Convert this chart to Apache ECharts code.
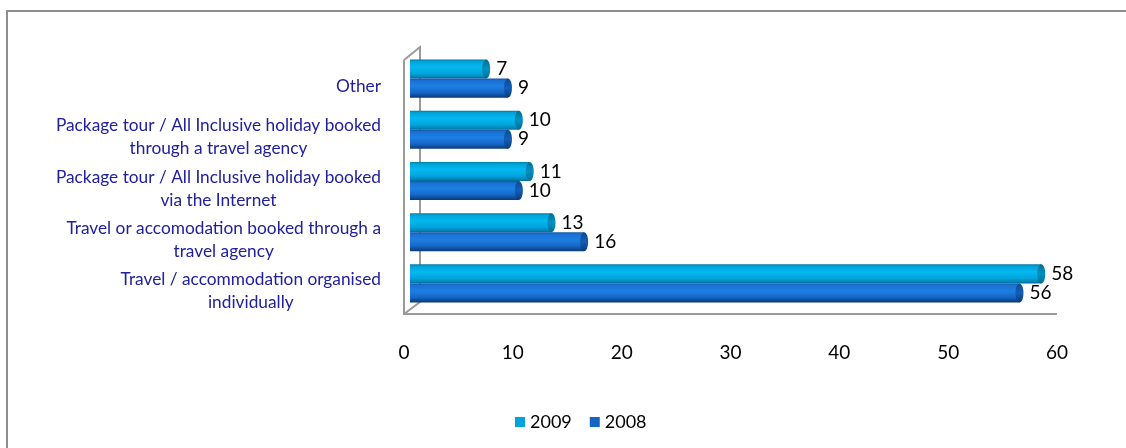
<!DOCTYPE html>
<html>
<head>
<meta charset="utf-8">
<script src="https://cdn.jsdelivr.net/npm/echarts@6/dist/echarts.min.js"></script>
<style>
  html, body { margin: 0; padding: 0; background: #fff; }
  #chart { width: 1126px; height: 448px; }
</style>
</head>
<body>
<div id="chart"></div>
<script>
// Ways of organising the holiday trip, share of respondents (%)
const categories = [
  'Other',
  'Package tour / All Inclusive holiday booked\nthrough a travel agency',
  'Package tour / All Inclusive holiday booked\nvia the Internet',
  'Travel or accomodation booked through a\ntravel agency',
  'Travel / accommodation organised\nindividually'
];
const values2009 = [7, 10, 11, 13, 58];
const values2008 = [9, 9, 10, 16, 56];
const seriesNames = ['2009', '2008'];
const valueAxisMin = 0;
const valueAxisMax = 60;
const valueAxisStep = 10;

const FONT = 'Lato, "Noto Sans", sans-serif';

// plot box
const GRID = { left: 410, top: 53, width: 653, height: 256 };
const gl = GRID.left, gt = GRID.top, gr = GRID.left + GRID.width, gb = GRID.top + GRID.height;

// cylinder shading for each series: body (across its thickness) and the end cap
const palettes = [
  {
    legend: '#00A3DD',
    body: [[0, '#00789F'], [0.1, '#00A3DA'], [0.4, '#05B8F0'], [0.75, '#01A2DA'], [0.92, '#0083B3'], [1, '#00678E']],
    cap: [[0, '#006E92'], [0.5, '#0091C2'], [1, '#006C90']]
  },
  {
    legend: '#1565C3',
    body: [[0, '#0F55A8'], [0.1, '#1A70D2'], [0.4, '#1D7FE3'], [0.72, '#1668C9'], [0.9, '#0E4A93'], [1, '#0A3870']],
    cap: [[0, '#0C4A92'], [0.5, '#135EB5'], [1, '#0A3B76']]
  }
];

function makeRender(seriesIdx) {
  const pal = palettes[seriesIdx];
  return function (params, api) {
    const v = api.value(0);
    const ci = api.value(1);
    const base = api.coord([0, ci]);
    const end = api.coord([v, ci]);
    const band = api.size([0, 1])[1];
    const h = band * 0.372;
    const yc = base[1] + (seriesIdx === 0 ? -h / 2 : h / 2);
    const rx = 4;
    return {
      type: 'group',
      children: [
        {
          type: 'rect',
          shape: { x: base[0], y: yc - h / 2, width: end[0] - base[0], height: h },
          style: { fill: new echarts.graphic.LinearGradient(0, 0, 0, 1, pal.body.map(s => ({ offset: s[0], color: s[1] }))) }
        },
        {
          type: 'ellipse',
          shape: { cx: end[0], cy: yc, rx: rx, ry: h / 2 },
          style: { fill: new echarts.graphic.LinearGradient(0, 0, 0, 1, pal.cap.map(s => ({ offset: s[0], color: s[1] }))) }
        },
        {
          type: 'text',
          style: {
            text: String(v),
            x: end[0] + rx + 6,
            y: yc,
            align: 'left',
            verticalAlign: 'middle',
            fill: '#000',
            font: '19px ' + FONT
          }
        }
      ]
    };
  };
}

const chart = echarts.init(document.getElementById('chart'), null, { renderer: 'canvas' });

const wallColor = '#9A9A9A';

chart.setOption({
  backgroundColor: '#fff',
  animation: false,
  grid: GRID,
  graphic: {
    elements: [
      // chart frame
      { type: 'rect', z: 0, shape: { x: 7, y: 11, width: 1300, height: 600 },
        style: { fill: 'none', stroke: '#8E8E8E', lineWidth: 2 } },
      // side wall of the 3D box
      { type: 'polyline', z: 0, shape: { points: [[gl - 6, gt + 7], [gl + 10, gt - 6], [gl + 10, gb - 7], [gl - 6, gb + 5]] },
        style: { fill: 'none', stroke: wallColor, lineWidth: 2 } },
      // front edges of wall and floor
      { type: 'polyline', z: 0, shape: { points: [[gl - 6, gt + 7], [gl - 6, gb + 5], [gr - 6, gb + 5]] },
        style: { fill: 'none', stroke: wallColor, lineWidth: 2 } }
    ]
  },
  legend: {
    left: 510,
    top: 408,
    icon: 'rect',
    itemWidth: 10,
    itemHeight: 10,
    itemGap: 18,
    textStyle: { fontFamily: FONT, fontSize: 18, color: '#000' },
    data: seriesNames.map((n, i) => ({ name: n, itemStyle: { color: palettes[i].legend } }))
  },
  xAxis: {
    type: 'value',
    min: valueAxisMin,
    max: valueAxisMax,
    interval: valueAxisStep,
    axisLine: { show: false },
    axisTick: { show: false },
    splitLine: { show: false },
    axisLabel: {
      margin: 34,
      padding: [0, 12, 0, 0],
      color: '#000',
      fontFamily: FONT,
      fontSize: 19
    }
  },
  yAxis: {
    type: 'category',
    inverse: true,
    data: categories,
    axisLine: { show: false },
    axisTick: { show: false },
    splitLine: { show: false },
    axisLabel: {
      margin: 29,
      padding: [15, 0, 0, 0],
      align: 'right',
      formatter: v => v.split('\n').map(s => '{c|' + s + '}').join('\n'),
      rich: {
        c: { align: 'center', color: '#20209E', fontFamily: FONT, fontSize: 17.3, lineHeight: 23 }
      }
    }
  },
  series: [values2009, values2008].map((vals, i) => ({
    type: 'custom',
    name: seriesNames[i],
    z: 2,
    itemStyle: { color: palettes[i].legend },
    encode: { x: 0, y: 1 },
    data: vals.map((v, k) => [v, k]),
    renderItem: makeRender(i)
  }))
});
</script>
</body>
</html>
